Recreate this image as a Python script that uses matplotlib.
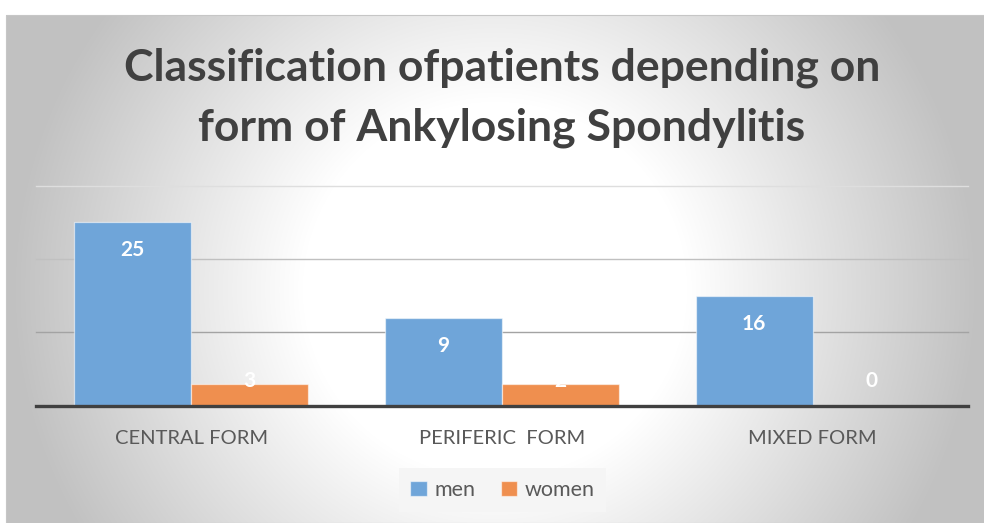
import numpy as np
import matplotlib
matplotlib.use('Agg')
import matplotlib.pyplot as plt
from matplotlib.patches import Rectangle

# ---------------- data ----------------
categories = ['CENTRAL FORM', 'PERIFERIC  FORM', 'MIXED FORM']
series_names = ['men', 'women']
men_heights = [25.0, 11.9, 14.9]      # bar heights as drawn
women_heights = [2.9, 2.9, 0.0]
men_labels = ['25', '9', '16']        # data labels as printed
women_labels = ['3', '2', '0']
title_lines = ['Classification ofpatients depending on',
               'form of Ankylosing Spondylitis']
grid_values = [10, 20, 30]

# ---------------- style ----------------
W, H = 984, 523
BLUE = '#6FA5D9'
ORANGE = '#EF8F4F'
TEXT_DARK = '#404040'
TEXT_MID = '#595959'
grid_colors = ['#a3a3a3', '#c0c0c0', '#dedede']

fig = plt.figure(figsize=(W / 100, H / 100), dpi=100)
fig.patch.set_facecolor('white')

# background with radial gradient
bg = fig.add_axes([0, 0, 1, 1], zorder=-10)
bg.set_xlim(0, W)
bg.set_ylim(H, 0)
bg.axis('off')
yy, xx = np.mgrid[0:H, 0:W] + 0.5
d = np.sqrt(((xx - 495) / 480) ** 2 + ((yy - 290) / 470) ** 2)
t = np.clip((d - 0.4) / (1 - 0.4), 0, 1)
val = 1 - 0.24 * t
img = np.dstack([val, val, val])
img[:15, :, :] = 1.0
img[:, :6, :] = 1.0
bg.imshow(img, extent=(0, W, H, 0), interpolation='bilinear', aspect='auto')
bg.add_patch(Rectangle((6, 15), W - 6, H - 15, fill=False, ec='#c6c6c6', lw=0.8))

# main axes
ax = fig.add_axes([36 / W, 1 - 405.7 / H, 932 / W, 220 / H])
ax.patch.set_alpha(0)
x = np.arange(len(categories))
bw = 0.3766
ax.set_xlim(-0.5, len(categories) - 0.5)
ax.set_ylim(0, 30)
for s in ax.spines.values():
    s.set_visible(False)
ax.set_yticks([])

for gv, gc in zip(grid_values, grid_colors):
    ax.axhline(gv, color=gc, lw=1.0, zorder=0, clip_on=False)

b1 = ax.bar(x - bw / 2, men_heights, bw, color=BLUE, edgecolor=(1, 1, 1, 0.55),
            lw=0.9, zorder=2, label=series_names[0])
b2 = ax.bar(x + bw / 2, women_heights, bw, color=ORANGE, edgecolor=(1, 1, 1, 0.55),
            lw=0.9, zorder=2, label=series_names[1])
ax.axhline(0, color='#404040', lw=2.4, zorder=4, clip_on=False)

label_font = dict(family='Lato', weight='bold', size=15, color='white')
for xs, hs, ls in ((x - bw / 2, men_heights, men_labels),
                   (x + bw / 2, women_heights, women_labels)):
    for xi, h, lab in zip(xs, hs, ls):
        ax.text(xi, max(h - 3.78, 3.4), lab, ha='center', va='center',
                zorder=5, **label_font)

ax.set_xticks(x)
ax.set_xticklabels(categories, family='Lato', size=14.5, color=TEXT_MID)
ax.tick_params(axis='x', length=0, pad=27.8)
for tl in ax.get_xticklabels():
    tl.set_va('baseline')

# title
fig.text(502 / W, 1 - 80.7 / H, title_lines[0], ha='center', va='baseline',
         family='Lato', weight='bold', size=32, color=TEXT_DARK)
fig.text(502 / W, 1 - 140 / H, title_lines[1], ha='center', va='baseline',
         family='Lato', weight='bold', size=32, color=TEXT_DARK)

# legend
leg = ax.legend(handles=[b1, b2], labels=series_names, loc='center',
                bbox_to_anchor=(502.5 / W, 1 - 490 / H),
                bbox_transform=fig.transFigure, ncol=2, frameon=True,
                facecolor='#f5f5f5', edgecolor='none', fancybox=False,
                framealpha=1, handlelength=0.75, handleheight=0.75,
                handletextpad=0.35, columnspacing=1.2, borderpad=0.55,
                borderaxespad=0, prop=dict(family='Lato', size=15.5),
                labelcolor=TEXT_MID)

fig.savefig('out.png', dpi=100)
